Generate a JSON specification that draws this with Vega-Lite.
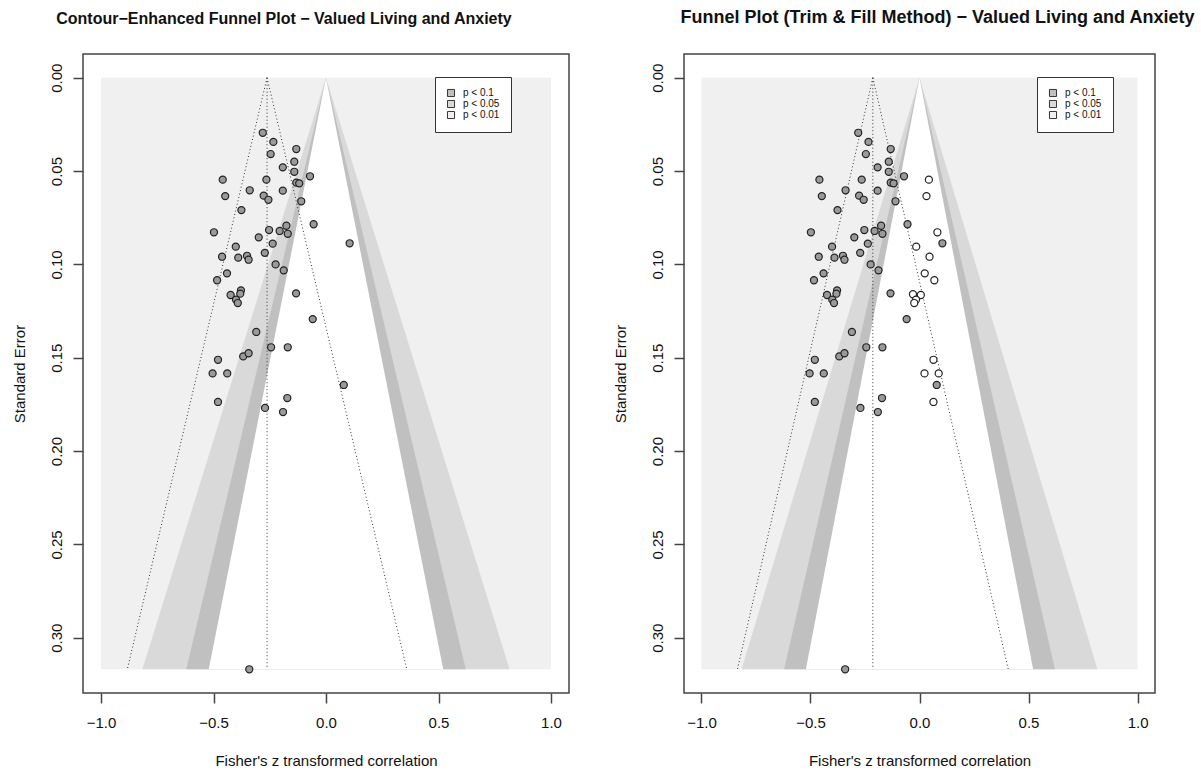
{
  "$schema": "https://vega.github.io/schema/vega-lite/v6.json",
  "autosize": {"type": "pad"},
  "padding": {"left": 11, "top": 8, "right": 5, "bottom": 5},
  "spacing": 115,
  "bounds": "flush",
  "background": "white",
  "datasets": {
    "regions": [
      {"region": "p < 0.01", "se": 0, "z": -1, "z2": 1},
      {"region": "p < 0.01", "se": 0.3169, "z": -1, "z2": 1},
      {"region": "p < 0.05", "se": 0, "z": 0, "z2": 0},
      {"region": "p < 0.05", "se": 0.3169, "z": -0.816, "z2": 0.816},
      {"region": "p < 0.1", "se": 0, "z": 0, "z2": 0},
      {"region": "p < 0.1", "se": 0.3169, "z": -0.621, "z2": 0.621},
      {"region": "ns", "se": 0, "z": 0, "z2": 0},
      {"region": "ns", "se": 0.3169, "z": -0.521, "z2": 0.521}
    ],
    "studies": [
      {"z": -0.281, "se": 0.0295}, {"z": -0.234, "se": 0.0344}, {"z": -0.132, "se": 0.0382},
      {"z": -0.246, "se": 0.0409}, {"z": -0.141, "se": 0.045}, {"z": -0.192, "se": 0.048},
      {"z": -0.141, "se": 0.0504}, {"z": -0.071, "se": 0.0528}, {"z": -0.459, "se": 0.0546},
      {"z": -0.265, "se": 0.0546}, {"z": -0.132, "se": 0.0562}, {"z": -0.119, "se": 0.0566},
      {"z": -0.448, "se": 0.0634}, {"z": -0.339, "se": 0.0603}, {"z": -0.277, "se": 0.0632},
      {"z": -0.256, "se": 0.0654}, {"z": -0.192, "se": 0.0605}, {"z": -0.11, "se": 0.0662},
      {"z": -0.376, "se": 0.0709}, {"z": -0.498, "se": 0.0828}, {"z": -0.253, "se": 0.0816},
      {"z": -0.206, "se": 0.0821}, {"z": -0.176, "se": 0.0793}, {"z": -0.17, "se": 0.0836},
      {"z": -0.055, "se": 0.0785}, {"z": -0.299, "se": 0.0855}, {"z": -0.237, "se": 0.0889},
      {"z": 0.105, "se": 0.0887}, {"z": -0.401, "se": 0.0905}, {"z": -0.462, "se": 0.0959},
      {"z": -0.39, "se": 0.0964}, {"z": -0.351, "se": 0.0954}, {"z": -0.344, "se": 0.0975},
      {"z": -0.272, "se": 0.0938}, {"z": -0.224, "se": 0.1}, {"z": -0.188, "se": 0.1032},
      {"z": -0.44, "se": 0.1048}, {"z": -0.484, "se": 0.1085}, {"z": -0.133, "se": 0.1155},
      {"z": -0.424, "se": 0.1164}, {"z": -0.378, "se": 0.1139}, {"z": -0.381, "se": 0.1157},
      {"z": -0.4, "se": 0.1189}, {"z": -0.392, "se": 0.1207}, {"z": -0.059, "se": 0.1293},
      {"z": -0.31, "se": 0.1362}, {"z": -0.244, "se": 0.1444}, {"z": -0.17, "se": 0.1444},
      {"z": -0.48, "se": 0.1511}, {"z": -0.368, "se": 0.1493}, {"z": -0.344, "se": 0.1476},
      {"z": -0.504, "se": 0.1584}, {"z": -0.439, "se": 0.1584}, {"z": 0.079, "se": 0.1646},
      {"z": -0.172, "se": 0.1716}, {"z": -0.48, "se": 0.1737}, {"z": -0.271, "se": 0.1769},
      {"z": -0.191, "se": 0.1791}, {"z": -0.341, "se": 0.3169}
    ],
    "filled": [
      {"z": 0.043, "se": 0.0546}, {"z": 0.032, "se": 0.0634}, {"z": 0.082, "se": 0.0828},
      {"z": -0.015, "se": 0.0905}, {"z": 0.046, "se": 0.0959}, {"z": 0.024, "se": 0.1048},
      {"z": 0.068, "se": 0.1085}, {"z": -0.03, "se": 0.116}, {"z": 0.006, "se": 0.1164},
      {"z": -0.016, "se": 0.1189}, {"z": -0.024, "se": 0.1207}, {"z": 0.064, "se": 0.1511},
      {"z": 0.023, "se": 0.1584}, {"z": 0.088, "se": 0.1584}, {"z": 0.064, "se": 0.1737}
    ],
    "refLeft": [
      {"z": -0.262, "se": 0, "z2": -0.883, "se2": 0.3169},
      {"z": -0.262, "se": 0, "z2": -0.262, "se2": 0.3169},
      {"z": -0.262, "se": 0, "z2": 0.359, "se2": 0.3169}
    ],
    "refRight": [
      {"z": -0.214, "se": 0, "z2": -0.835, "se2": 0.3169},
      {"z": -0.214, "se": 0, "z2": -0.214, "se2": 0.3169},
      {"z": -0.214, "se": 0, "z2": 0.407, "se2": 0.3169}
    ]
  },
  "hconcat": [
    {
      "width": 486,
      "height": 639,
      "title": {"text": "Contour−Enhanced Funnel Plot − Valued Living and Anxiety", "dx": -42},
      "encoding": {
        "x": {"field": "z", "type": "quantitative", "title": "Fisher's z transformed correlation",
              "scale": {"domain": [-1.08, 1.08], "nice": false, "zero": false},
              "axis": {"values": [-1, -0.5, 0, 0.5, 1], "format": ".1f"}},
        "y": {"field": "se", "type": "quantitative", "title": "Standard Error",
              "scale": {"domain": [-0.0127, 0.3296], "reverse": true, "nice": false, "zero": false},
              "axis": {"values": [0, 0.05, 0.1, 0.15, 0.2, 0.25, 0.3], "format": ".2f"}}
      },
      "layer": [
        {"data": {"name": "regions"}, "transform": [{"filter": "datum.region === 'p < 0.01'"}],
         "mark": {"type": "area", "orient": "horizontal"},
         "encoding": {"x2": {"field": "z2"},
           "fill": {"field": "region", "type": "nominal",
             "scale": {"domain": ["p < 0.1", "p < 0.05", "p < 0.01"], "range": ["#c0c0c0", "#d9d9d9", "#f0f0f0"]},
             "legend": {"title": null, "orient": "none", "legendX": 352, "legendY": 23}}}},
        {"data": {"name": "regions"}, "transform": [{"filter": "datum.region === 'p < 0.05'"}],
         "mark": {"type": "area", "orient": "horizontal"},
         "encoding": {"x2": {"field": "z2"},
           "fill": {"field": "region", "type": "nominal",
             "scale": {"domain": ["p < 0.1", "p < 0.05", "p < 0.01"], "range": ["#c0c0c0", "#d9d9d9", "#f0f0f0"]}}}},
        {"data": {"name": "regions"}, "transform": [{"filter": "datum.region === 'p < 0.1'"}],
         "mark": {"type": "area", "orient": "horizontal"},
         "encoding": {"x2": {"field": "z2"},
           "fill": {"field": "region", "type": "nominal",
             "scale": {"domain": ["p < 0.1", "p < 0.05", "p < 0.01"], "range": ["#c0c0c0", "#d9d9d9", "#f0f0f0"]}}}},
        {"data": {"name": "regions"}, "transform": [{"filter": "datum.region === 'ns'"}],
         "mark": {"type": "area", "orient": "horizontal", "fill": "white"},
         "encoding": {"x2": {"field": "z2"}}},
        {"data": {"name": "refLeft"},
         "mark": {"type": "rule", "color": "#333", "strokeWidth": 1, "strokeDash": [1, 2.5]},
         "encoding": {"x2": {"field": "z2"}, "y2": {"field": "se2"}}},
        {"data": {"name": "studies"},
         "mark": {"type": "point", "shape": "circle", "filled": true, "size": 50, "fill": "#9a9a9a", "stroke": "#222", "strokeWidth": 1.2, "opacity": 1}}
      ]
    },
    {
      "width": 471,
      "height": 639,
      "title": {"text": "Funnel Plot (Trim & Fill Method) − Valued Living and Anxiety", "dx": 18, "fontSize": 18},
      "encoding": {
        "x": {"field": "z", "type": "quantitative", "title": "Fisher's z transformed correlation",
              "scale": {"domain": [-1.08, 1.08], "nice": false, "zero": false},
              "axis": {"values": [-1, -0.5, 0, 0.5, 1], "format": ".1f"}},
        "y": {"field": "se", "type": "quantitative", "title": "Standard Error",
              "scale": {"domain": [-0.0127, 0.3296], "reverse": true, "nice": false, "zero": false},
              "axis": {"values": [0, 0.05, 0.1, 0.15, 0.2, 0.25, 0.3], "format": ".2f"}}
      },
      "layer": [
        {"data": {"name": "regions"}, "transform": [{"filter": "datum.region === 'p < 0.01'"}],
         "mark": {"type": "area", "orient": "horizontal"},
         "encoding": {"x2": {"field": "z2"},
           "fill": {"field": "region", "type": "nominal",
             "scale": {"domain": ["p < 0.1", "p < 0.05", "p < 0.01"], "range": ["#c0c0c0", "#d9d9d9", "#f0f0f0"]},
             "legend": {"title": null, "orient": "none", "legendX": 353, "legendY": 23}}}},
        {"data": {"name": "regions"}, "transform": [{"filter": "datum.region === 'p < 0.05'"}],
         "mark": {"type": "area", "orient": "horizontal"},
         "encoding": {"x2": {"field": "z2"},
           "fill": {"field": "region", "type": "nominal",
             "scale": {"domain": ["p < 0.1", "p < 0.05", "p < 0.01"], "range": ["#c0c0c0", "#d9d9d9", "#f0f0f0"]}}}},
        {"data": {"name": "regions"}, "transform": [{"filter": "datum.region === 'p < 0.1'"}],
         "mark": {"type": "area", "orient": "horizontal"},
         "encoding": {"x2": {"field": "z2"},
           "fill": {"field": "region", "type": "nominal",
             "scale": {"domain": ["p < 0.1", "p < 0.05", "p < 0.01"], "range": ["#c0c0c0", "#d9d9d9", "#f0f0f0"]}}}},
        {"data": {"name": "regions"}, "transform": [{"filter": "datum.region === 'ns'"}],
         "mark": {"type": "area", "orient": "horizontal", "fill": "white"},
         "encoding": {"x2": {"field": "z2"}}},
        {"data": {"name": "refRight"},
         "mark": {"type": "rule", "color": "#333", "strokeWidth": 1, "strokeDash": [1, 2.5]},
         "encoding": {"x2": {"field": "z2"}, "y2": {"field": "se2"}}},
        {"data": {"name": "studies"},
         "mark": {"type": "point", "shape": "circle", "filled": true, "size": 50, "fill": "#9a9a9a", "stroke": "#222", "strokeWidth": 1.2, "opacity": 1}},
        {"data": {"name": "filled"},
         "mark": {"type": "point", "shape": "circle", "filled": true, "size": 50, "fill": "white", "stroke": "#222", "strokeWidth": 1.2, "opacity": 1}}
      ]
    }
  ],
  "resolve": {"scale": {"fill": "independent"}, "legend": {"fill": "independent"}},
  "config": {
    "font": "Liberation Sans",
    "view": {"stroke": "#444", "strokeWidth": 1.5},
    "title": {"font": "Liberation Sans", "fontSize": 16, "fontWeight": "bold", "color": "#111", "offset": 27, "anchor": "middle"},
    "axis": {"domain": false, "grid": false, "tickColor": "#444", "tickWidth": 1.5, "tickSize": 10,
             "labelFont": "Liberation Sans", "labelFontSize": 15, "labelColor": "#111",
             "titleFont": "Liberation Sans", "titleFontSize": 15, "titleFontWeight": "normal", "titleColor": "#111"},
    "axisX": {"labelBaseline": "alphabetic", "labelPadding": 24, "titleY": 72, "titleBaseline": "alphabetic", "labelFlush": false},
    "axisY": {"labelAngle": 270, "labelAlign": "center", "labelBaseline": "alphabetic", "labelPadding": 12,
              "titleAngle": 270, "titleX": -59, "titleBaseline": "alphabetic", "labelFlush": false},
    "legend": {"fillColor": "white", "strokeColor": "#333", "strokeWidth": 1, "padding": 11, "cornerRadius": 0,
               "symbolType": "square", "symbolSize": 50, "symbolStrokeColor": "#333", "symbolStrokeWidth": 1,
               "labelFont": "Liberation Sans", "labelFontSize": 10, "labelColor": "#111", "labelOffset": 7, "rowPadding": -2}
  }
}
